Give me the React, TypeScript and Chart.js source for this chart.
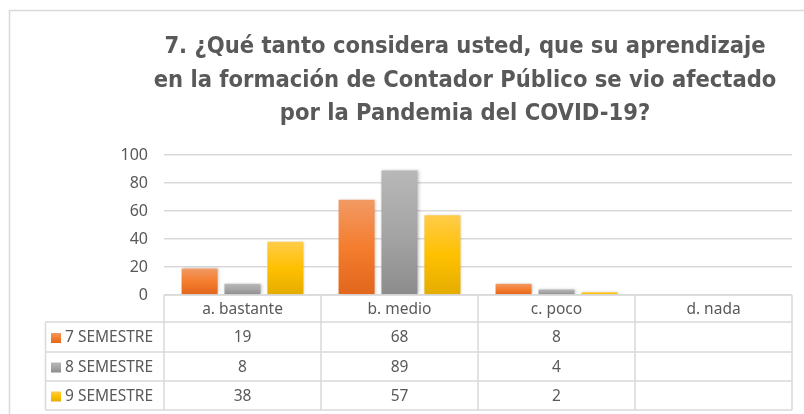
import React, { useEffect, useRef } from "react";
import { Chart, registerables } from "chart.js";

Chart.register(...registerables);

const titleLines = [
  "7. ¿Qué tanto considera usted, que su aprendizaje",
  "en la formación de Contador Público se vio afectado",
  "por la Pandemia del COVID-19?",
];
const categories = ["a. bastante", "b. medio", "c. poco", "d. nada"];
const seriesNames = ["7 SEMESTRE", "8 SEMESTRE", "9 SEMESTRE"];
const sem7 = [19, 68, 8, null];
const sem8 = [8, 89, 4, null];
const sem9 = [38, 57, 2, null];
const yTicks = [0, 20, 40, 60, 80, 100];

const palettes = [
  ["#F29A64", "#F47D2E", "#E1661C"],
  ["#B8B8B8", "#A5A5A5", "#8C8C8C"],
  ["#FFCC4A", "#FFC000", "#E3AC00"],
];

const TEXT = "#595959";
const GRID = "#D9D9D9";
const TFONT = "'Liberation Sans Narrow', 'DejaVu Sans Condensed', 'Liberation Sans', sans-serif";
const BFONT = "'Noto Sans', 'Liberation Sans', sans-serif";

function gradFor(ctx: any, idx: number) {
  const chart = ctx.chart;
  const y = chart.scales?.y;
  const p = palettes[idx];
  if (!y || !chart.chartArea || ctx.parsed == null || ctx.parsed.y == null) return p[1];
  const top = y.getPixelForValue(ctx.parsed.y);
  const bot = y.getPixelForValue(0);
  if (!isFinite(top) || Math.abs(bot - top) < 1) return p[1];
  const g = chart.ctx.createLinearGradient(0, top, 0, bot);
  g.addColorStop(0, p[0]);
  g.addColorStop(0.5, p[1]);
  g.addColorStop(1, p[2]);
  return g;
}

const framePlugin = {
  id: "frame",
  beforeDraw(chart: any) {
    const c = chart.ctx;
    c.save();
    c.fillStyle = "#ffffff";
    c.fillRect(0, 0, chart.width, chart.height);
    c.strokeStyle = GRID;
    c.lineWidth = 1.5;
    c.beginPath();
    c.moveTo(9.5, chart.height + 2);
    c.lineTo(9.5, 10.5);
    c.lineTo(chart.width + 2, 10.5);
    c.stroke();
    c.restore();
  },
};

const titlePlugin = {
  id: "titleLines",
  afterDraw(chart: any) {
    const c = chart.ctx;
    c.save();
    c.fillStyle = TEXT;
    c.font = `bold 23.5px ${TFONT}`;
    c.textAlign = "center";
    c.textBaseline = "alphabetic";
    const baselines = [53, 87, 120];
    titleLines.forEach((t, i) => c.fillText(t, 465, baselines[i]));
    c.restore();
  },
};

const shadowPlugin = {
  id: "barShadow",
  beforeDatasetsDraw(chart: any) {
    const c = chart.ctx;
    c.save();
    c.shadowColor = "rgba(0,0,0,0.22)";
    c.shadowBlur = 3;
    c.shadowOffsetX = 1;
    c.shadowOffsetY = 0;
  },
  afterDatasetsDraw(chart: any) {
    chart.ctx.restore();
  },
};

const tablePlugin = {
  id: "dataTable",
  afterDraw(chart: any) {
    const c = chart.ctx;
    const x = chart.scales.x;
    const area = chart.chartArea;
    const n = categories.length;
    const cw = (area.right - area.left) / n;
    const left = 45.5;
    const rowsY = [area.bottom, area.bottom + 27, area.bottom + 57, area.bottom + 86, area.bottom + 115];
    const data = [sem7, sem8, sem9];
    c.save();
    c.strokeStyle = GRID;
    c.lineWidth = 1.5;
    c.beginPath();
    c.moveTo(area.left, rowsY[0]);
    c.lineTo(area.right, rowsY[0]);
    for (let r = 1; r < rowsY.length; r++) {
      c.moveTo(left, rowsY[r]);
      c.lineTo(area.right, rowsY[r]);
    }
    for (let i = 0; i <= n; i++) {
      const xx = area.left + i * cw;
      c.moveTo(xx, rowsY[0]);
      c.lineTo(xx, rowsY[4]);
    }
    c.moveTo(left, rowsY[1]);
    c.lineTo(left, rowsY[4]);
    c.stroke();

    c.fillStyle = TEXT;
    c.font = `15.5px ${BFONT}`;
    c.textAlign = "center";
    c.textBaseline = "middle";
    categories.forEach((cat, i) => {
      const cx = x.getPixelForValue(i);
      c.fillText(cat, cx, (rowsY[0] + rowsY[1]) / 2 + 1);
    });
    data.forEach((arr, r) => {
      const cy = (rowsY[r + 1] + rowsY[r + 2]) / 2 + 1;
      arr.forEach((v, i) => {
        if (v == null) return;
        c.fillText(String(v), x.getPixelForValue(i), cy);
      });
      const p = palettes[r];
      const g = c.createLinearGradient(0, cy - 5, 0, cy + 5);
      g.addColorStop(0, p[0]);
      g.addColorStop(0.5, p[1]);
      g.addColorStop(1, p[2]);
      c.fillStyle = g;
      c.fillRect(51, cy - 5, 10, 10);
      c.fillStyle = TEXT;
      c.textAlign = "left";
      c.fillText(seriesNames[r], 65, cy);
      c.textAlign = "center";
    });
    c.restore();
  },
};

export default function App() {
  const ref = useRef<HTMLCanvasElement | null>(null);
  useEffect(() => {
    if (!ref.current) return;
    const mk = (label: string, d: (number | null)[], idx: number) => ({
      label,
      data: d,
      backgroundColor: (ctx: any) => gradFor(ctx, idx),
      borderWidth: 0,
      categoryPercentage: 0.82,
      barPercentage: 0.84,
    });
    const chart = new Chart(ref.current, {
      type: "bar",
      data: {
        labels: categories,
        datasets: [mk(seriesNames[0], sem7, 0), mk(seriesNames[1], sem8, 1), mk(seriesNames[2], sem9, 2)],
      },
      options: {
        animation: false,
        responsive: false,
        maintainAspectRatio: false,
        layout: { padding: { left: 0, right: 12, top: 155, bottom: 119 } },
        plugins: { legend: { display: false }, title: { display: false }, tooltip: { enabled: false } },
        scales: {
          x: { display: false },
          y: {
            min: 0,
            max: 100,
            afterBuildTicks: (s: any) => {
              s.ticks = yTicks.map((v) => ({ value: v }));
            },
            afterFit: (s: any) => {
              s.width = 164;
            },
            border: { display: false },
            grid: { color: GRID, lineWidth: 1.5, drawTicks: false },
            ticks: {
              color: TEXT,
              font: { family: BFONT, size: 16 },
              padding: 16,
            },
          },
        },
      },
      plugins: [framePlugin, shadowPlugin, titlePlugin, tablePlugin],
    });
    return () => chart.destroy();
  }, []);
  return (
    <div style={{ position: "fixed", left: 0, top: 0, width: 804, height: 414, background: "#fff" }}>
      <canvas ref={ref} width={804} height={414} style={{ display: "block", width: 804, height: 414 }} />
    </div>
  );
}
